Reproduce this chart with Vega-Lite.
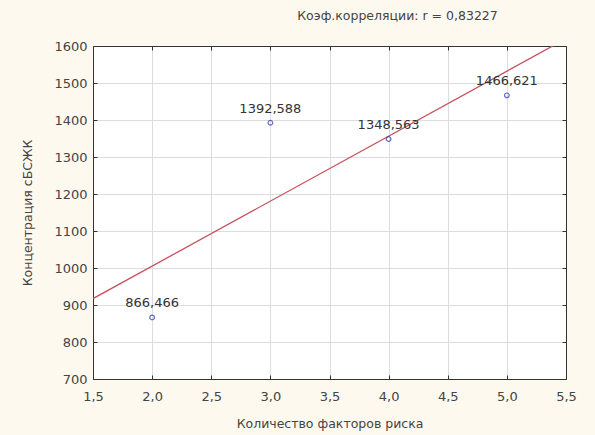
{
  "$schema": "https://vega.github.io/schema/vega-lite/v6.json",
  "width": 473,
  "height": 333,
  "autosize": {"type": "none"},
  "padding": {"left": 93, "top": 46, "right": 29, "bottom": 56},
  "background": "#fdf9ef",
  "config": {
    "font": "DejaVu Sans",
    "view": {"fill": "white", "stroke": "#333", "strokeWidth": 1},
    "axis": {
      "labelFont": "DejaVu Sans",
      "titleFont": "DejaVu Sans",
      "labelFontSize": 13,
      "titleFontSize": 12.5,
      "labelColor": "#444",
      "titleColor": "#444",
      "titleFontWeight": "normal",
      "gridColor": "#dddddd",
      "domainColor": "#333",
      "tickColor": "#333",
      "tickSize": -4,
      "labelFlush": false
    }
  },
  "title": {
    "text": "Коэф.корреляции: r = 0,83227",
    "font": "DejaVu Sans",
    "fontSize": 12.5,
    "fontWeight": "normal",
    "color": "#444",
    "anchor": "middle",
    "dx": 68,
    "offset": 18
  },
  "data": {
    "values": [
      {"x": 2, "y": 866.466, "label": "866,466"},
      {"x": 3, "y": 1392.588, "label": "1392,588"},
      {"x": 4, "y": 1348.563, "label": "1348,563"},
      {"x": 5, "y": 1466.621, "label": "1466,621"}
    ]
  },
  "layer": [
    {
      "encoding": {
        "x": {
          "field": "x",
          "type": "quantitative",
          "scale": {"domain": [1.5, 5.5], "nice": false, "zero": false},
          "axis": {
            "title": "Количество факторов риска",
            "values": [1.5, 2, 2.5, 3, 3.5, 4, 4.5, 5, 5.5],
            "labelExpr": "replace(format(datum.value, '.1f'), '.', ',')",
            "labelPadding": 15,
            "titlePadding": 14
          }
        },
        "y": {
          "field": "y",
          "type": "quantitative",
          "scale": {"domain": [700, 1600], "nice": false, "zero": false},
          "axis": {
            "title": "Концентрация сБСЖК",
            "values": [700, 800, 900, 1000, 1100, 1200, 1300, 1400, 1500, 1600],
            "format": "d",
            "labelPadding": 10,
            "titlePadding": 19
          }
        }
      },
      "layer": [
        {
          "transform": [{"regression": "y", "on": "x", "extent": [1.5, 5.5]}],
          "mark": {"type": "line", "color": "#c9505e", "strokeWidth": 1.3, "clip": true}
        },
        {
          "mark": {"type": "point", "shape": "circle", "size": 22, "color": "#2a33a8", "strokeWidth": 1.2, "filled": false}
        },
        {
          "mark": {"type": "text", "dy": -14, "fontSize": 13, "color": "#333", "font": "DejaVu Sans"},
          "encoding": {"text": {"field": "label"}}
        }
      ]
    },
    {
      "mark": {"type": "point", "opacity": 0},
      "encoding": {
        "x": {
          "field": "x",
          "type": "quantitative",
          "scale": {"domain": [1.5, 5.5], "nice": false, "zero": false},
          "axis": {"orient": "top", "title": null, "labels": false, "grid": false, "values": [1.5, 2, 2.5, 3, 3.5, 4, 4.5, 5, 5.5]}
        },
        "y": {
          "field": "y",
          "type": "quantitative",
          "scale": {"domain": [700, 1600], "nice": false, "zero": false},
          "axis": {"orient": "right", "title": null, "labels": false, "grid": false, "values": [700, 800, 900, 1000, 1100, 1200, 1300, 1400, 1500, 1600]}
        }
      }
    }
  ],
  "resolve": {"axis": {"x": "independent", "y": "independent"}}
}
